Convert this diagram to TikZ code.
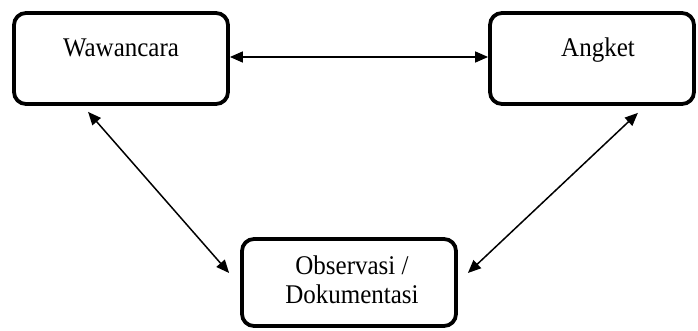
\documentclass[tikz,border=0pt]{standalone}
\usepackage{fontspec}
\setmainfont{Liberation Serif}
\usetikzlibrary{arrows.meta}
\begin{document}
\begin{tikzpicture}[x=1pt,y=1pt,
  box/.style={draw, line width=3.8pt, rounded corners=12pt, inner sep=0pt},
  lbl/.style={anchor=base, font=\fontsize{25}{30}\selectfont, inner sep=0pt, yscale=1.08},
  link/.style={line width=1.5pt, {Triangle[length=13pt,width=11pt]}-{Triangle[length=13pt,width=11pt]}}]
\useasboundingbox (0,0) rectangle (698,331);
\node[box, minimum width=214pt, minimum height=91pt] (w) at (121,272.5) {};
\node[box, minimum width=204pt, minimum height=91pt] (a) at (592,272.5) {};
\node[box, minimum width=214pt, minimum height=87pt] (o) at (349,48.5) {};
\node[lbl] (wt) at (121,274) {Wawancara};
\node[lbl] (at) at (598,274) {Angket};
\node[lbl] (ot1) at (352,56) {Observasi /};
\node[lbl] (ot2) at (352,27) {Dokumentasi};
\coordinate (wl) at ([shift={(76pt,-6pt)}]w.south west);
\coordinate (ol) at ([shift={(-11pt,9.5pt)}]o.west);
\coordinate (ar) at ([shift={(-58pt,-7pt)}]a.south east);
\coordinate (or) at ([shift={(10pt,9.5pt)}]o.east);
\draw[link] ([yshift=1.5pt]w.east) -- ([yshift=1.5pt]a.west);
\draw[link] (wl) -- (ol);
\draw[link] (ar) -- (or);
\end{tikzpicture}
\end{document}
